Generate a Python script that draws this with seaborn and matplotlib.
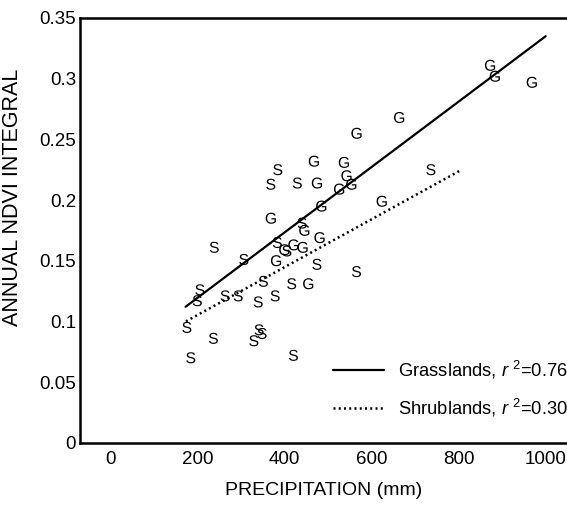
import numpy as np
import pandas as pd
import matplotlib
matplotlib.use("Agg")
import matplotlib.pyplot as plt
import seaborn as sns

# ---- data ----
g_precip = [467, 536, 474, 542, 525, 553, 484, 368, 445, 480, 399, 420, 441, 380, 454,
            663, 565, 872, 883, 968, 623]
g_ndvi = [0.232, 0.231, 0.214, 0.220, 0.209, 0.213, 0.195, 0.185, 0.175, 0.169, 0.159,
          0.163, 0.161, 0.150, 0.131, 0.268, 0.255, 0.311, 0.302, 0.297, 0.199]

s_precip = [384, 368, 429, 440, 238, 383, 405, 306, 474, 565, 351, 416, 205, 199, 263,
            293, 339, 378, 175, 236, 329, 341, 348, 184, 420, 736]
s_ndvi = [0.225, 0.213, 0.214, 0.181, 0.161, 0.165, 0.158, 0.151, 0.147, 0.141, 0.133,
          0.131, 0.126, 0.117, 0.121, 0.121, 0.116, 0.121, 0.095, 0.086, 0.084, 0.093,
          0.090, 0.070, 0.072, 0.225]

grass_fit_x = [172, 1000]
grass_fit_y = [0.112, 0.335]
shrub_fit_x = [173, 807]
shrub_fit_y = [0.100, 0.225]

x_ticks = [0, 100, 200, 300, 400, 500, 600, 700, 800, 900, 1000]
x_ticklabels = ["0", "", "200", "", "400", "", "600", "", "800", "", "1000"]
y_ticks = [0, 0.05, 0.1, 0.15, 0.2, 0.25, 0.3, 0.35]
y_ticklabels = ["0", "0.05", "0.1", "0.15", "0.2", "0.25", "0.3", "0.35"]

grass_label = r"Grasslands, $\mathit{r}$ $^{2}$=0.76"
shrub_label = r"Shrublands, $\mathit{r}$ $^{2}$=0.30"
x_label = "PRECIPITATION (mm)"
y_label = "ANNUAL NDVI INTEGRAL"

# ---- style ----
sns.set_theme(style="white")
plt.rcParams["font.family"] = ["Liberation Sans", "DejaVu Sans"]
plt.rcParams["mathtext.fontset"] = "custom"
plt.rcParams["mathtext.rm"] = "Liberation Sans"
plt.rcParams["mathtext.it"] = "Liberation Sans:italic"
plt.rcParams["mathtext.default"] = "regular"

df = pd.DataFrame({
    "precip": g_precip + s_precip,
    "ndvi": g_ndvi + s_ndvi,
    "biome": ["G"] * len(g_precip) + ["S"] * len(s_precip),
})

fig = plt.figure(figsize=(5.67, 5.07), dpi=100)
ax = fig.add_axes([0.1416, 0.1268, 0.8584, 0.8377])

sns.scatterplot(data=df, x="precip", y="ndvi", style="biome",
                markers={"G": r"$\mathregular{G}$", "S": r"$\mathregular{S}$"},
                color="black", s=64, linewidth=0, legend=False, ax=ax, zorder=3)

sns.lineplot(x=grass_fit_x, y=grass_fit_y, color="black", lw=1.6,
             label=grass_label, ax=ax, estimator=None, sort=False)
sns.lineplot(x=shrub_fit_x, y=shrub_fit_y, color="black", lw=1.8,
             linestyle=(0, (0.8, 1.3)), label=shrub_label, ax=ax,
             estimator=None, sort=False)

ax.set_xlim(-70, 1049)
ax.set_ylim(0, 0.35)
ax.set_xticks(x_ticks)
ax.set_xticklabels(x_ticklabels)
ax.set_yticks(y_ticks)
ax.set_yticklabels(y_ticklabels)
ax.tick_params(axis="both", direction="in", length=6, width=1.5, labelsize=13.5,
               color="black", labelcolor="black")
ax.tick_params(axis="x", pad=6)
ax.tick_params(axis="y", pad=3)

for side in ["left", "bottom", "top"]:
    ax.spines[side].set_visible(True)
    ax.spines[side].set_linewidth(1.8)
    ax.spines[side].set_color("black")
ax.spines["right"].set_visible(False)

ax.set_xlabel(x_label, fontsize=14, labelpad=10, color="black")
ax.set_ylabel(y_label, fontsize=15.5, labelpad=8, color="black")
ax.yaxis.set_label_coords(-0.117, 0.578)

leg = ax.legend(loc="center left", bbox_to_anchor=(0.520, 0.126), frameon=False,
                fontsize=13.2, handlelength=2.75, handletextpad=0.8,
                labelspacing=0.85, borderpad=0, borderaxespad=0)
for t in leg.get_texts():
    t.set_color("black")

fig.savefig("out.png", dpi=100)
